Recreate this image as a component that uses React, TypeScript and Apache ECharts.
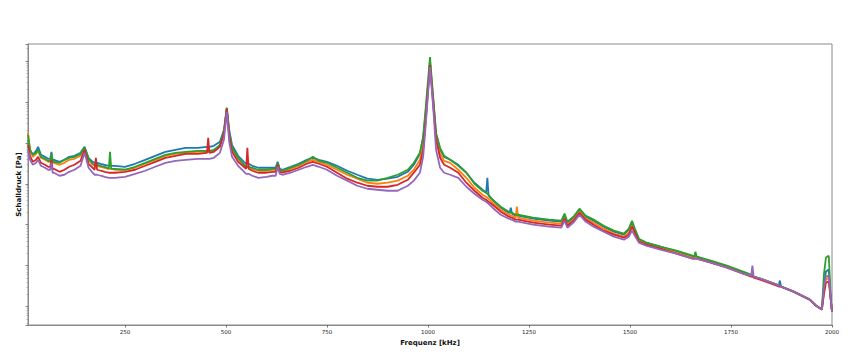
import React, { useEffect, useRef } from "react";
import * as echarts from "echarts";

// Frequency grid (kHz), 142 points
const freqKHz = [
  10, 15, 22, 30, 35, 42, 52, 60, 65, 68,
  71, 74, 88, 100, 112, 125, 140, 150, 160, 170,
  175, 178, 181, 190, 200, 210, 213, 216, 225, 250,
  275, 300, 325, 350, 375, 400, 430, 453, 456, 459,
  470, 485, 495, 502, 508, 515, 530, 547, 550, 553,
  556, 565, 580, 600, 615, 623, 628, 633, 640, 660,
  680, 700, 715, 730, 750, 775, 800, 825, 850, 875,
  900, 925, 950, 965, 980, 988, 995, 1005, 1013, 1020,
  1030, 1040, 1055, 1075, 1095, 1115, 1135, 1144, 1147, 1150,
  1160, 1180, 1200, 1202, 1205, 1208, 1217, 1220, 1223, 1260,
  1300, 1330, 1338, 1345, 1360, 1375, 1390, 1410, 1435, 1460,
  1485, 1497, 1505, 1513, 1522, 1540, 1575, 1615, 1655, 1659,
  1662, 1665, 1700, 1740, 1780, 1800, 1803, 1806, 1822, 1863,
  1868, 1871, 1874, 1905, 1945, 1960, 1975, 1980, 1985, 1992,
  1997, 2000,
];

// Sound pressure [Pa], five measurements
const seriesBlue = [
  1.19e-2, 6.75e-3, 5.10e-3, 6.38e-3, 7.99e-3, 5.10e-3, 4.55e-3, 4.07e-3, 4.07e-3, 6.03e-3,
  3.85e-3, 3.85e-3, 3.44e-3, 3.85e-3, 4.55e-3, 4.82e-3, 5.70e-3, 7.99e-3, 4.31e-3, 3.44e-3,
  3.25e-3, 3.25e-3, 3.25e-3, 3.08e-3, 2.91e-3, 2.75e-3, 2.75e-3, 2.75e-3, 2.75e-3, 2.60e-3,
  3.08e-3, 3.85e-3, 4.82e-3, 6.03e-3, 6.75e-3, 7.55e-3, 7.55e-3, 7.99e-3, 7.99e-3, 7.99e-3,
  8.45e-3, 1.06e-2, 2.08e-2, 7.14e-2, 2.08e-2, 8.94e-3, 4.82e-3, 3.25e-3, 3.08e-3, 3.08e-3,
  3.08e-3, 2.75e-3, 2.46e-3, 2.46e-3, 2.46e-3, 2.46e-3, 3.44e-3, 2.32e-3, 2.20e-3, 2.60e-3,
  3.08e-3, 3.85e-3, 4.31e-3, 3.85e-3, 3.44e-3, 2.75e-3, 2.08e-3, 1.66e-3, 1.33e-3, 1.25e-3,
  1.33e-3, 1.48e-3, 1.96e-3, 2.91e-3, 5.39e-3, 1.33e-2, 6.38e-2, 0.945, 0.112, 1.57e-2,
  6.75e-3, 4.55e-3, 3.85e-3, 2.91e-3, 1.86e-3, 1.06e-3, 7.14e-4, 6.03e-4, 1.40e-3, 5.10e-4,
  4.07e-4, 2.60e-4, 1.96e-4, 1.96e-4, 2.60e-4, 1.86e-4, 1.66e-4, 1.66e-4, 1.66e-4, 1.40e-4,
  1.25e-4, 1.19e-4, 1.66e-4, 1.12e-4, 1.48e-4, 2.20e-4, 1.57e-4, 1.25e-4, 8.94e-5, 6.75e-5,
  5.70e-5, 7.55e-5, 1.12e-4, 7.14e-5, 4.31e-5, 3.64e-5, 2.91e-5, 2.20e-5, 1.66e-5, 1.66e-5,
  1.66e-5, 1.66e-5, 1.25e-5, 9.45e-6, 6.75e-6, 5.70e-6, 5.70e-6, 5.39e-6, 4.82e-6, 3.44e-6,
  3.25e-6, 4.31e-6, 3.08e-6, 2.32e-6, 1.48e-6, 1.06e-6, 8.45e-7, 3.44e-6, 7.14e-6, 7.99e-6,
  1.48e-6, 7.55e-7,
];
const seriesOrange = [
  1.75e-2, 6.75e-3, 4.55e-3, 5.39e-3, 6.38e-3, 4.31e-3, 3.85e-3, 3.44e-3, 3.44e-3, 5.10e-3,
  3.25e-3, 3.25e-3, 2.91e-3, 3.25e-3, 3.85e-3, 4.07e-3, 4.82e-3, 7.14e-3, 3.85e-3, 2.91e-3,
  2.75e-3, 2.75e-3, 2.75e-3, 2.60e-3, 2.46e-3, 2.32e-3, 2.32e-3, 2.32e-3, 2.20e-3, 2.20e-3,
  2.46e-3, 3.08e-3, 3.85e-3, 4.82e-3, 5.39e-3, 5.70e-3, 6.03e-3, 6.03e-3, 6.03e-3, 6.03e-3,
  6.38e-3, 8.45e-3, 1.75e-2, 6.75e-2, 1.66e-2, 7.14e-3, 4.07e-3, 2.75e-3, 2.60e-3, 2.60e-3,
  2.60e-3, 2.32e-3, 2.08e-3, 2.08e-3, 2.20e-3, 2.20e-3, 3.08e-3, 2.08e-3, 1.96e-3, 2.32e-3,
  2.75e-3, 3.44e-3, 3.85e-3, 3.44e-3, 2.91e-3, 2.20e-3, 1.66e-3, 1.33e-3, 1.06e-3, 1.00e-3,
  1.06e-3, 1.19e-3, 1.57e-3, 2.20e-3, 3.85e-3, 8.94e-3, 4.82e-2, 0.894, 0.100, 1.33e-2,
  5.39e-3, 3.64e-3, 3.25e-3, 2.20e-3, 1.40e-3, 7.99e-4, 5.39e-4, 4.82e-4, 4.55e-4, 4.31e-4,
  3.44e-4, 2.32e-4, 1.75e-4, 1.75e-4, 1.66e-4, 1.66e-4, 1.48e-4, 2.75e-4, 1.48e-4, 1.25e-4,
  1.12e-4, 1.06e-4, 1.48e-4, 1.00e-4, 1.33e-4, 2.08e-4, 1.40e-4, 1.12e-4, 7.99e-5, 6.03e-5,
  5.10e-5, 6.38e-5, 9.45e-5, 6.38e-5, 4.07e-5, 3.44e-5, 2.75e-5, 2.08e-5, 1.57e-5, 1.57e-5,
  1.57e-5, 1.57e-5, 1.19e-5, 9.45e-6, 6.75e-6, 5.70e-6, 5.70e-6, 5.39e-6, 4.82e-6, 3.44e-6,
  3.25e-6, 3.25e-6, 3.08e-6, 2.32e-6, 1.48e-6, 1.06e-6, 8.45e-7, 2.32e-6, 4.55e-6, 5.10e-6,
  1.48e-6, 7.55e-7,
];
const seriesGreen = [
  1.57e-2, 6.75e-3, 5.10e-3, 5.70e-3, 6.75e-3, 4.55e-3, 4.07e-3, 3.64e-3, 3.64e-3, 5.39e-3,
  3.44e-3, 3.44e-3, 3.25e-3, 3.85e-3, 4.31e-3, 4.55e-3, 5.39e-3, 7.55e-3, 4.07e-3, 3.08e-3,
  2.91e-3, 2.91e-3, 2.91e-3, 2.75e-3, 2.60e-3, 2.32e-3, 6.03e-3, 2.32e-3, 2.32e-3, 2.20e-3,
  2.60e-3, 3.25e-3, 4.07e-3, 5.10e-3, 5.70e-3, 6.03e-3, 6.38e-3, 6.38e-3, 6.38e-3, 6.38e-3,
  6.75e-3, 8.94e-3, 1.86e-2, 7.14e-2, 1.75e-2, 7.55e-3, 4.31e-3, 2.75e-3, 2.60e-3, 2.60e-3,
  2.60e-3, 2.46e-3, 2.20e-3, 2.20e-3, 2.32e-3, 2.32e-3, 3.25e-3, 2.20e-3, 2.08e-3, 2.46e-3,
  2.91e-3, 3.64e-3, 4.55e-3, 3.64e-3, 3.25e-3, 2.46e-3, 1.86e-3, 1.40e-3, 1.19e-3, 1.19e-3,
  1.40e-3, 1.66e-3, 2.20e-3, 3.25e-3, 5.70e-3, 1.40e-2, 8.45e-2, 1.25, 0.125, 1.75e-2,
  7.55e-3, 4.82e-3, 3.85e-3, 2.75e-3, 1.86e-3, 1.00e-3, 6.75e-4, 6.03e-4, 5.70e-4, 5.39e-4,
  4.07e-4, 2.75e-4, 2.08e-4, 2.08e-4, 1.96e-4, 1.96e-4, 1.75e-4, 1.75e-4, 1.75e-4, 1.48e-4,
  1.33e-4, 1.25e-4, 1.86e-4, 1.19e-4, 1.57e-4, 2.46e-4, 1.66e-4, 1.33e-4, 9.45e-5, 7.14e-5,
  6.03e-5, 7.99e-5, 1.25e-4, 7.55e-5, 4.55e-5, 3.64e-5, 2.91e-5, 2.32e-5, 1.75e-5, 1.66e-5,
  2.20e-5, 1.66e-5, 1.33e-5, 1.00e-5, 7.14e-6, 6.03e-6, 6.03e-6, 5.39e-6, 4.82e-6, 3.44e-6,
  3.25e-6, 3.25e-6, 3.08e-6, 2.32e-6, 1.48e-6, 1.06e-6, 8.45e-7, 6.03e-6, 1.57e-5, 1.75e-5,
  1.48e-6, 7.55e-7,
];
const seriesRed = [
  8.94e-3, 4.82e-3, 3.44e-3, 3.85e-3, 4.55e-3, 3.25e-3, 2.91e-3, 2.60e-3, 2.60e-3, 3.85e-3,
  2.32e-3, 2.32e-3, 1.96e-3, 2.20e-3, 2.60e-3, 2.91e-3, 3.64e-3, 6.75e-3, 3.08e-3, 2.46e-3,
  2.20e-3, 4.31e-3, 2.20e-3, 2.08e-3, 1.96e-3, 1.86e-3, 1.86e-3, 1.86e-3, 1.86e-3, 1.96e-3,
  2.20e-3, 2.75e-3, 3.44e-3, 4.31e-3, 4.82e-3, 5.39e-3, 5.39e-3, 5.70e-3, 1.33e-2, 5.70e-3,
  6.03e-3, 7.99e-3, 1.66e-2, 6.75e-2, 1.48e-2, 6.03e-3, 3.44e-3, 2.46e-3, 2.32e-3, 7.55e-3,
  2.32e-3, 2.08e-3, 1.86e-3, 1.86e-3, 1.96e-3, 1.96e-3, 2.91e-3, 1.96e-3, 1.86e-3, 2.08e-3,
  2.46e-3, 3.08e-3, 3.44e-3, 3.08e-3, 2.60e-3, 1.86e-3, 1.33e-3, 1.06e-3, 8.94e-4, 8.45e-4,
  8.45e-4, 9.45e-4, 1.25e-3, 1.86e-3, 2.91e-3, 6.75e-3, 4.07e-2, 0.799, 8.94e-2, 1.19e-2,
  4.31e-3, 2.91e-3, 2.46e-3, 1.86e-3, 1.06e-3, 6.75e-4, 4.55e-4, 4.07e-4, 3.85e-4, 3.64e-4,
  3.08e-4, 2.08e-4, 1.57e-4, 1.57e-4, 1.48e-4, 1.48e-4, 1.33e-4, 1.33e-4, 1.33e-4, 1.12e-4,
  1.00e-4, 9.45e-5, 1.40e-4, 9.45e-5, 1.25e-4, 1.96e-4, 1.33e-4, 1.00e-4, 7.14e-5, 5.70e-5,
  4.82e-5, 5.70e-5, 8.94e-5, 6.03e-5, 3.85e-5, 3.25e-5, 2.60e-5, 1.96e-5, 1.48e-5, 1.48e-5,
  1.48e-5, 1.48e-5, 1.19e-5, 8.94e-6, 6.38e-6, 5.39e-6, 5.39e-6, 5.10e-6, 4.55e-6, 3.25e-6,
  3.08e-6, 3.08e-6, 3.08e-6, 2.32e-6, 1.48e-6, 1.06e-6, 8.45e-7, 1.96e-6, 3.85e-6, 4.07e-6,
  1.48e-6, 7.55e-7,
];
const seriesPurple = [
  6.75e-3, 3.85e-3, 2.91e-3, 3.25e-3, 3.85e-3, 2.75e-3, 2.46e-3, 2.20e-3, 2.20e-3, 3.25e-3,
  1.86e-3, 1.86e-3, 1.57e-3, 1.66e-3, 1.96e-3, 2.20e-3, 2.75e-3, 5.70e-3, 2.46e-3, 1.86e-3,
  1.66e-3, 1.66e-3, 1.66e-3, 1.57e-3, 1.48e-3, 1.40e-3, 1.40e-3, 1.40e-3, 1.40e-3, 1.48e-3,
  1.75e-3, 2.08e-3, 2.60e-3, 3.25e-3, 3.64e-3, 3.85e-3, 4.07e-3, 4.07e-3, 4.07e-3, 4.07e-3,
  4.31e-3, 5.70e-3, 1.19e-2, 5.70e-2, 1.06e-2, 4.55e-3, 2.75e-3, 1.86e-3, 1.75e-3, 1.75e-3,
  1.75e-3, 1.57e-3, 1.40e-3, 1.48e-3, 1.57e-3, 1.57e-3, 2.60e-3, 1.75e-3, 1.66e-3, 1.86e-3,
  2.20e-3, 2.60e-3, 2.91e-3, 2.60e-3, 2.20e-3, 1.57e-3, 1.19e-3, 8.94e-4, 7.55e-4, 7.14e-4,
  6.75e-4, 6.75e-4, 8.94e-4, 1.19e-3, 1.86e-3, 4.55e-3, 3.25e-2, 0.714, 7.14e-2, 6.75e-3,
  2.46e-3, 1.86e-3, 1.66e-3, 1.40e-3, 8.45e-4, 5.70e-4, 4.07e-4, 3.64e-4, 3.44e-4, 3.25e-4,
  2.60e-4, 1.75e-4, 1.40e-4, 1.40e-4, 1.33e-4, 1.33e-4, 1.19e-4, 1.19e-4, 1.19e-4, 1.00e-4,
  8.94e-5, 8.45e-5, 1.25e-4, 8.45e-5, 1.12e-4, 1.75e-4, 1.19e-4, 8.94e-5, 6.75e-5, 5.10e-5,
  4.31e-5, 5.10e-5, 7.14e-5, 5.10e-5, 3.64e-5, 3.08e-5, 2.46e-5, 1.96e-5, 1.48e-5, 1.48e-5,
  1.48e-5, 1.48e-5, 1.19e-5, 8.94e-6, 6.38e-6, 5.70e-6, 1.00e-5, 5.39e-6, 4.82e-6, 3.44e-6,
  3.25e-6, 3.25e-6, 3.08e-6, 2.32e-6, 1.48e-6, 1.06e-6, 8.45e-7, 2.91e-6, 5.39e-6, 5.70e-6,
  1.48e-6, 7.55e-7,
];

const seriesNames = ["Messung 1", "Messung 2", "Messung 3", "Messung 4", "Messung 5"];
const seriesValues = [seriesBlue, seriesOrange, seriesGreen, seriesRed, seriesPurple];
const seriesColors = ["#1f77b4", "#ff7f0e", "#2ca02c", "#d62728", "#9467bd"];

const xTickValues = [250, 500, 750, 1000, 1250, 1500, 1750, 2000];
const xMin = 10;
const xMax = 2000;
const yMin = 3.54e-7;
const yMax = 2.6;

export default function App() {
  const ref = useRef<HTMLDivElement>(null);

  useEffect(() => {
    if (!ref.current) return;
    const chart = echarts.init(ref.current, null, { renderer: "svg" });
    const frame = "#8a8a8a";
    chart.setOption({
      animation: false,
      grid: {
        left: 28,
        right: 26,
        top: 44,
        bottom: 30,
        show: true,
        borderColor: frame,
        borderWidth: 1,
        backgroundColor: "transparent",
      },
      xAxis: {
        type: "value",
        min: xMin,
        max: xMax,
        name: "Frequenz [kHz]",
        nameLocation: "middle",
        nameGap: 12,
        nameTextStyle: {
          fontFamily: "DejaVu Sans",
          fontWeight: "bold",
          fontSize: 7,
          color: "#111",
        },
        axisLine: { show: true, lineStyle: { color: frame, width: 1 } },
        axisTick: {
          show: true,
          customValues: xTickValues,
          length: 2.5,
          lineStyle: { color: "#555", width: 0.8 },
        },
        axisLabel: {
          customValues: xTickValues,
          formatter: (v: number) => String(v),
          fontFamily: "DejaVu Sans",
          fontSize: 5.5,
          margin: 3.5,
          color: "#222",
        },
        splitLine: { show: false },
      },
      yAxis: {
        type: "log",
        logBase: 10,
        min: yMin,
        max: yMax,
        name: "Schalldruck [Pa]",
        nameLocation: "middle",
        nameRotate: 90,
        nameGap: 6,
        nameTextStyle: {
          fontFamily: "DejaVu Sans",
          fontWeight: "bold",
          fontSize: 7,
          color: "#111",
        },
        axisLine: { show: true, lineStyle: { color: frame, width: 1 } },
        axisTick: { show: true, length: 2.5, lineStyle: { color: "#666", width: 0.8 } },
        minorTick: { show: true, splitNumber: 9, length: 1.5, lineStyle: { color: "#888", width: 0.6 } },
        axisLabel: { show: false },
        splitLine: { show: false },
        minorSplitLine: { show: false },
      },
      series: seriesValues.map((vals, si) => ({
        name: seriesNames[si],
        type: "line",
        showSymbol: false,
        symbol: "none",
        color: seriesColors[si],
        lineStyle: { width: 1.8, color: seriesColors[si] },
        data: freqKHz.map((f, i) => [f, vals[i]]),
      })),
    });
    return () => chart.dispose();
  }, []);

  return (
    <div
      ref={ref}
      style={{ position: "fixed", left: 0, top: 0, width: 858, height: 355, background: "#fff" }}
    />
  );
}
